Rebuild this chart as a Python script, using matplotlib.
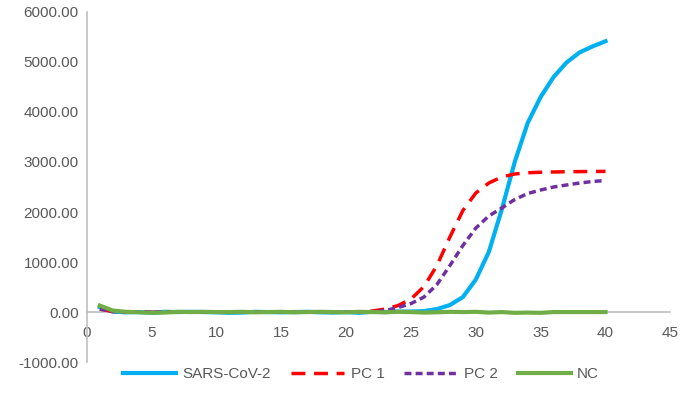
import matplotlib.pyplot as plt
import numpy as np

cycles = list(range(1, 41))

sars_cov2 = [100, 10, -5, 0, -10, 5, 0, 5, 0, -5,
             -15, -10, 5, 0, -5, 0, 5, -5, -10, 0,
             -15, 5, 0, 10, 10, 20, 60, 140, 300, 650,
             1200, 2050, 3000, 3780, 4300, 4700, 4990, 5190, 5310, 5414]
pc1 = [60, 10, 0, 0, -5, 0, 0, 0, 0, 0,
       0, 0, 0, 0, 0, 0, 0, 0, 0, 0,
       0, 20, 60, 130, 260, 510, 930, 1500, 2030, 2380,
       2580, 2700, 2760, 2785, 2795, 2800, 2805, 2808, 2810, 2812]
pc2 = [60, 10, 0, 0, -5, 0, 0, 0, 0, 0,
       0, 0, 0, 0, 0, 0, 0, 0, 0, 0,
       0, 0, 30, 90, 170, 300, 550, 930, 1330, 1680,
       1920, 2080, 2250, 2370, 2440, 2500, 2540, 2580, 2610, 2630]
nc = [130, 30, 5, -5, -15, -10, 5, 0, 5, 0,
      0, 5, -5, 0, 5, -5, 0, 5, 0, -5,
      5, 0, -5, 5, 0, -10, -5, 5, 0, 5,
      -10, 0, -15, -10, -15, 0, 0, 0, 0, 0]

plt.rcParams['font.family'] = ['Liberation Sans', 'DejaVu Sans']

fig = plt.figure(figsize=(6.84, 4.11), dpi=100)
ax = fig.add_axes([0.127, 0.119, 0.853, 0.852])

ax.plot(cycles, sars_cov2, color='#00B0F0', linewidth=3, label='SARS-CoV-2', zorder=3)
ax.plot(cycles, pc1, color='#FF0000', linewidth=2.5, linestyle=(0, (4, 2.5)), label='PC 1', zorder=4)
ax.plot(cycles, pc2, color='#7030A0', linewidth=2.5, linestyle=(0, (2, 1.2)), label='PC 2', zorder=4)
ax.plot(cycles, nc, color='#70AD47', linewidth=3, label='NC', zorder=5)

ax.set_xlim(0, 45)
ax.set_ylim(-1000, 6000)
ax.set_xticks(range(0, 46, 5))
ax.set_yticks(range(-1000, 6001, 1000))
ax.set_yticklabels([f'{v:.2f}' for v in range(-1000, 6001, 1000)])

for side in ['top', 'right']:
    ax.spines[side].set_visible(False)
ax.spines['bottom'].set_position(('data', 0))
ax.spines['left'].set_position(('data', 0))
for side in ['bottom', 'left']:
    ax.spines[side].set_color('#BFBFBF')
    ax.spines[side].set_linewidth(1.2)

ax.tick_params(axis='both', length=0, labelsize=11, colors='#595959')
ax.tick_params(axis='x', pad=10)
ax.tick_params(axis='y', pad=6)

ax.legend(loc='upper center', bbox_to_anchor=(0.47, 0.025), ncol=4, frameon=False,
          fontsize=11, labelcolor='#595959', handlelength=3.5, columnspacing=1.3,
          handletextpad=0.4)

plt.savefig('out.png', dpi=100)
